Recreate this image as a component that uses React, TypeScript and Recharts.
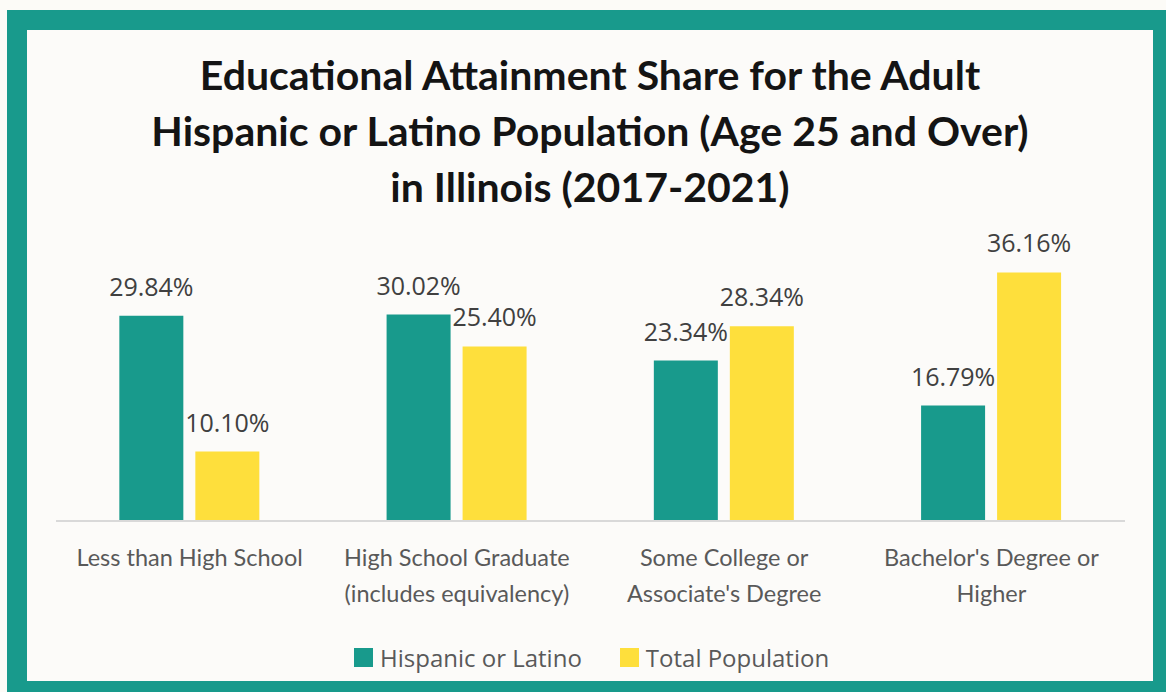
import React from "react";
import { BarChart, Bar, XAxis, YAxis, LabelList } from "recharts";

const categories = [
  "Less than High School",
  "High School Graduate\n(includes equivalency)",
  "Some College or\nAssociate's Degree",
  "Bachelor's Degree or\nHigher",
];
const hispanic = [29.84, 30.02, 23.34, 16.79];
const total = [10.1, 25.4, 28.34, 36.16];
const seriesNames = ["Hispanic or Latino", "Total Population"];
const titleLines = [
  "Educational Attainment Share for the Adult",
  "Hispanic or Latino Population (Age 25 and Over)",
  "in Illinois (2017-2021)",
];

const data = categories.map((c, i) => ({ name: c, h: hispanic[i], t: total[i] }));

const TEAL = "#189a8c";
const YELLOW = "#fedf3c";
const colors = [TEAL, YELLOW];

const Tick = (props: any) => {
  const { x, y, payload } = props;
  const lines = String(payload.value).split("\n");
  return (
    <g transform={`translate(${x},${y})`}>
      {lines.map((l, i) => (
        <text
          key={i}
          x={0}
          y={37 + i * 36}
          textAnchor="middle"
          fill="#595959"
          fontSize={23.5}
          fontFamily="Lato, 'Open Sans', sans-serif"
        >
          {l}
        </text>
      ))}
    </g>
  );
};

const fmt = (v: any) => `${Number(v).toFixed(2)}%`;

export default function App() {
  return (
    <div
      style={{
        position: "fixed",
        left: 0,
        top: 0,
        width: 1166,
        height: 692,
        background: "#fcfbf7",
        overflow: "hidden",
      }}
    >
      <div
        style={{
          position: "absolute",
          left: 7,
          top: 10,
          width: 1166,
          height: 691,
          border: `20px solid ${TEAL}`,
          background: "#fcfbf9",
          boxSizing: "border-box",
        }}
      />
      <div
        style={{
          position: "absolute",
          left: 0,
          top: 47,
          width: 1180,
          textAlign: "center",
          fontFamily: "Lato, 'Open Sans', sans-serif",
          fontWeight: 700,
          fontSize: 41,
          lineHeight: "56px",
          color: "#141414",
        }}
      >
        {titleLines.map((l, i) => (
          <div key={i}>{l}</div>
        ))}
      </div>
      <div style={{ position: "absolute", left: 0, top: 0 }}>
        <BarChart
          width={1166}
          height={692}
          data={data}
          margin={{ top: 246, right: 41, bottom: 71, left: 56 }}
          barGap={12}
          barCategoryGap="23.7%"
        >
          <XAxis
            dataKey="name"
            tick={<Tick />}
            tickLine={false}
            axisLine={{ stroke: "#d9d9d9", strokeWidth: 2 }}
            interval={0}
            height={100}
          />
          <YAxis hide domain={[0, 40]} />
          <Bar dataKey="h" name={seriesNames[0]} fill={TEAL} isAnimationActive={false}>
            <LabelList
              dataKey="h"
              position="top"
              offset={20}
              formatter={fmt}
              fill="#404040"
              fontSize={25}
              fontFamily="'Open Sans', sans-serif"
            />
          </Bar>
          <Bar dataKey="t" name={seriesNames[1]} fill={YELLOW} isAnimationActive={false}>
            <LabelList
              dataKey="t"
              position="top"
              offset={20}
              formatter={fmt}
              fill="#404040"
              fontSize={25}
              fontFamily="'Open Sans', sans-serif"
            />
          </Bar>
        </BarChart>
      </div>
      <div
        style={{
          position: "absolute",
          left: 354,
          top: 642,
          display: "flex",
          alignItems: "center",
          fontFamily: "'Open Sans', sans-serif",
          fontSize: 24,
          color: "#595959",
          height: 30,
        }}
      >
        {seriesNames.map((n, i) => (
          <div
            key={n}
            style={{ display: "flex", alignItems: "center", marginRight: i === 0 ? 38 : 0 }}
          >
            <div style={{ width: 19, height: 19, background: colors[i], marginRight: 7 }} />
            <span>{n}</span>
          </div>
        ))}
      </div>
    </div>
  );
}
